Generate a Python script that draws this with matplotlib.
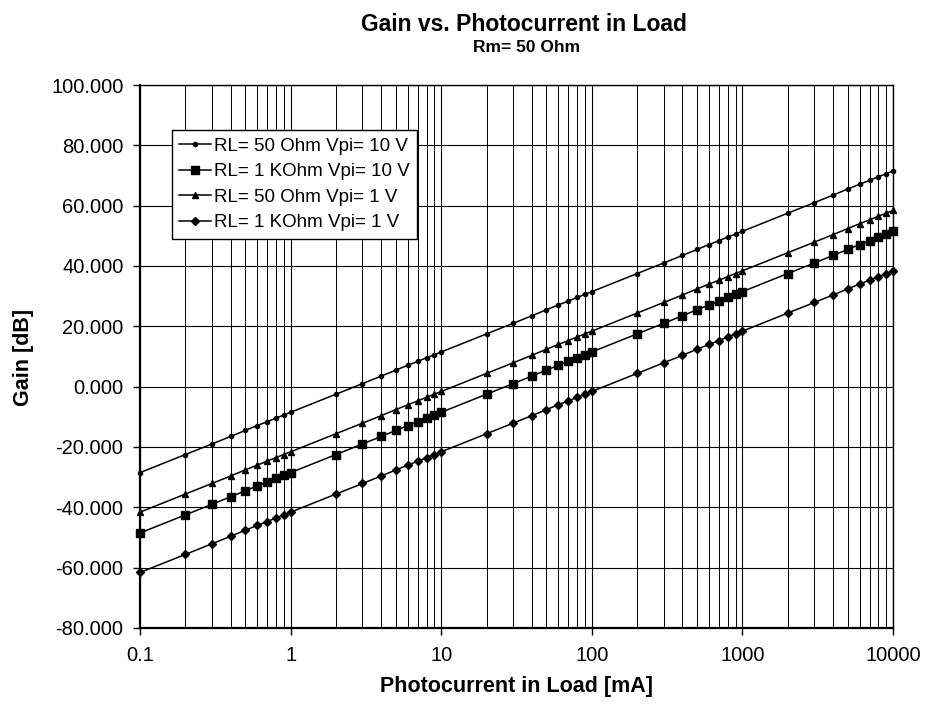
import matplotlib
matplotlib.use("Agg")
import matplotlib.pyplot as plt
from matplotlib.ticker import FixedLocator, LogLocator, NullFormatter, FuncFormatter

plt.rcParams['font.family'] = ['Liberation Sans', 'DejaVu Sans']

current_mA = [0.1, 0.2, 0.3, 0.4, 0.5, 0.6, 0.7, 0.8, 0.9,
              1, 2, 3, 4, 5, 6, 7, 8, 9,
              10, 20, 30, 40, 50, 60, 70, 80, 90,
              100, 200, 300, 400, 500, 600, 700, 800, 900,
              1000, 2000, 3000, 4000, 5000, 6000, 7000, 8000, 9000, 10000]

gain_rl50_vpi10 = [-28.5, -22.5, -19.0, -16.5, -14.5, -12.9, -11.6, -10.4, -9.4,
                   -8.5, -2.5, 1.0, 3.5, 5.5, 7.1, 8.4, 9.6, 10.6,
                   11.5, 17.5, 21.0, 23.5, 25.5, 27.1, 28.4, 29.6, 30.6,
                   31.5, 37.5, 41.0, 43.5, 45.5, 47.1, 48.4, 49.6, 50.6,
                   51.5, 57.5, 61.0, 63.5, 65.5, 67.1, 68.4, 69.6, 70.6, 71.5]

gain_rl1k_vpi10 = [-48.5, -42.5, -39.0, -36.5, -34.5, -32.9, -31.6, -30.4, -29.4,
                   -28.5, -22.5, -19.0, -16.5, -14.5, -12.9, -11.6, -10.4, -9.4,
                   -8.5, -2.5, 1.0, 3.5, 5.5, 7.1, 8.4, 9.6, 10.6,
                   11.5, 17.5, 21.0, 23.5, 25.5, 27.1, 28.4, 29.6, 30.6,
                   31.5, 37.5, 41.0, 43.5, 45.5, 47.1, 48.4, 49.6, 50.6, 51.5]

gain_rl50_vpi1 = [-41.6, -35.6, -32.1, -29.6, -27.6, -26.0, -24.7, -23.5, -22.5,
                  -21.6, -15.6, -12.1, -9.6, -7.6, -6.0, -4.7, -3.5, -2.5,
                  -1.6, 4.4, 7.9, 10.4, 12.4, 14.0, 15.3, 16.5, 17.5,
                  18.4, 24.4, 27.9, 30.4, 32.4, 34.0, 35.3, 36.5, 37.5,
                  38.4, 44.4, 47.9, 50.4, 52.4, 54.0, 55.3, 56.5, 57.5, 58.4]

gain_rl1k_vpi1 = [-61.6, -55.6, -52.1, -49.6, -47.6, -46.0, -44.7, -43.5, -42.5,
                  -41.6, -35.6, -32.1, -29.6, -27.6, -26.0, -24.7, -23.5, -22.5,
                  -21.6, -15.6, -12.1, -9.6, -7.6, -6.0, -4.7, -3.5, -2.5,
                  -1.6, 4.4, 7.9, 10.4, 12.4, 14.0, 15.3, 16.5, 17.5,
                  18.4, 24.4, 27.9, 30.4, 32.4, 34.0, 35.3, 36.5, 37.5, 38.4]

series_labels = ["RL= 50 Ohm Vpi= 10 V", "RL= 1 KOhm Vpi= 10 V",
                 "RL= 50 Ohm Vpi= 1 V", "RL= 1 KOhm Vpi= 1 V"]
y_ticks = [-80, -60, -40, -20, 0, 20, 40, 60, 80, 100]
x_ticks = [0.1, 1, 10, 100, 1000, 10000]
x_tick_labels = ["0.1", "1", "10", "100", "1000", "10000"]

fig = plt.figure(figsize=(9.25, 7.06), dpi=100)
ax = fig.add_axes([0.1514, 0.1105, 0.8140, 0.7691])

styles = [
    dict(marker='o', markersize=3),
    dict(marker='s', markersize=5.5),
    dict(marker='^', markersize=4.5),
    dict(marker='D', markersize=4.5),
]
data = [gain_rl50_vpi10, gain_rl1k_vpi10, gain_rl50_vpi1, gain_rl1k_vpi1]
for vals, lab, st in zip(data, series_labels, styles):
    ax.plot(current_mA, vals, color='black', linewidth=1.1, label=lab,
            clip_on=False, zorder=3, **st)

ax.set_xscale('log')
ax.set_xlim(0.1, 10000)
ax.set_ylim(-80, 100)
ax.xaxis.set_major_locator(FixedLocator(x_ticks))
ax.set_xticklabels(x_tick_labels)
ax.xaxis.set_minor_locator(LogLocator(base=10, subs=range(2, 10)))
ax.xaxis.set_minor_formatter(NullFormatter())
ax.yaxis.set_major_locator(FixedLocator(y_ticks))
ax.yaxis.set_major_formatter(FuncFormatter(lambda v, p: f"{v:.3f}"))

ax.grid(True, which='major', axis='both', color='black', linewidth=0.8)
ax.grid(True, which='minor', axis='x', color='black', linewidth=0.7)
ax.tick_params(axis='both', which='major', direction='out', length=5,
               width=1, labelsize=14.5, colors='black', pad=7)
ax.tick_params(axis='x', which='minor', length=0)
ax.tick_params(axis='x', which='major', pad=8)
for s in ax.spines.values():
    s.set_linewidth(1.0)
ax.spines['left'].set_linewidth(1.6)
ax.spines['bottom'].set_linewidth(1.6)

ax.set_xlabel("Photocurrent in Load [mA]", fontsize=15.5, fontweight='bold')
ax.xaxis.set_label_coords(0.5, -0.088)
ax.set_ylabel("Gain [dB]", fontsize=15.5, fontweight='bold')
ax.yaxis.set_label_coords(-0.141, 0.499)

fig.text(0.5665, 0.981, "Gain vs. Photocurrent in Load", ha='center', va='top',
         fontsize=16.5, fontweight='bold')
fig.text(0.5697, 0.943, "Rm= 50 Ohm", ha='center', va='top',
         fontsize=12.5, fontweight='bold')

leg = ax.legend(loc='upper left', bbox_to_anchor=(0.042, 0.917), fontsize=13.5,
                frameon=True, fancybox=False, framealpha=1, edgecolor='black',
                borderpad=0.4, labelspacing=0.45, handlelength=1.7,
                handletextpad=0.15, borderaxespad=0)
leg.get_frame().set_linewidth(1.0)
leg.set_zorder(5)

fig.savefig("out.png", dpi=100)
